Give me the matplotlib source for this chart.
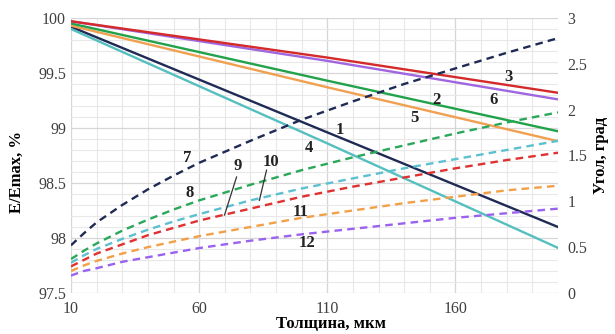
import numpy as np
import matplotlib
matplotlib.use('Agg')
import matplotlib.pyplot as plt
from matplotlib.ticker import MultipleLocator, FuncFormatter

plt.rcParams['font.family'] = ['Liberation Serif', 'DejaVu Serif']

# толщина, мкм
x_solid = [10, 110, 200]
# E/Emax, % (сплошные линии 1-6)
e1 = [99.92, 98.96, 98.10]
e2 = [99.95, 99.43, 98.97]
e3 = [99.97, 99.64, 99.32]
e4 = [99.90, 98.86, 97.91]
e5 = [99.93, 99.37, 98.88]
e6 = [99.97, 99.61, 99.26]

# угол, град (пунктир 7-12)
x_dash = [10, 15, 20, 30, 40, 50, 60, 80, 100, 120, 140, 160, 180, 200]
a7 = [0.52, 0.65, 0.77, 0.96, 1.13, 1.28, 1.42, 1.66, 1.89, 2.09, 2.28, 2.45, 2.62, 2.78]
a8 = [0.37, 0.46, 0.54, 0.68, 0.80, 0.91, 1.01, 1.18, 1.34, 1.48, 1.61, 1.74, 1.86, 1.97]
a9 = [0.29, 0.36, 0.43, 0.53, 0.63, 0.71, 0.79, 0.92, 1.05, 1.16, 1.26, 1.36, 1.45, 1.53]
a10 = [0.33, 0.41, 0.48, 0.59, 0.69, 0.78, 0.86, 1.01, 1.14, 1.25, 1.36, 1.46, 1.56, 1.66]
a11 = [0.24, 0.30, 0.35, 0.43, 0.50, 0.56, 0.62, 0.72, 0.82, 0.90, 0.98, 1.05, 1.12, 1.17]
a12 = [0.19, 0.24, 0.27, 0.34, 0.39, 0.44, 0.49, 0.57, 0.64, 0.70, 0.76, 0.82, 0.87, 0.92]

navy = '#1f2a55'
red = '#d42a2a'
green = '#22a24a'
orange = '#f0a050'
purple = '#a066e0'
cyan = '#55bfc0'

fig = plt.figure(figsize=(6.15, 3.34), dpi=100)
ax = fig.add_axes([0.1154, 0.1228, 0.7919, 0.8234])
ax2 = ax.twinx()

# сетка
ax.set_xlim(10, 200)
ax.set_ylim(97.5, 100)
ax.xaxis.set_minor_locator(MultipleLocator(10))
ax.yaxis.set_major_locator(MultipleLocator(0.5))
ax.yaxis.set_minor_locator(MultipleLocator(0.1))
ax.yaxis.set_major_formatter(FuncFormatter(lambda v, p: '%g' % v))
ax.set_xticks([10, 60, 110, 160])
ax.grid(which='major', color='#d6d6d6', lw=0.9)
ax.grid(which='minor', color='#e8e8e8', lw=0.8)
ax.set_axisbelow(True)
ax.tick_params(which='both', length=0, labelsize=11.5, colors='#404040')
ax.tick_params(axis='x', pad=6)
for s in ax.spines.values():
    s.set_visible(False)
for s in ax2.spines.values():
    s.set_visible(False)

lw = 1.7
ax.plot(x_solid, e1, color=navy, lw=lw)
ax.plot(x_solid, e4, color=cyan, lw=lw)
ax.plot(x_solid, e5, color=orange, lw=lw)
ax.plot(x_solid, e2, color=green, lw=lw)
ax.plot(x_solid, e6, color=purple, lw=lw)
ax.plot(x_solid, e3, color=red, lw=lw)

ax2.set_ylim(0, 3)
ax2.set_yticks([0, 0.5, 1, 1.5, 2, 2.5, 3])
ax2.yaxis.set_major_formatter(FuncFormatter(lambda v, p: '%g' % v))
ax2.tick_params(length=0, labelsize=11.5, colors='#404040', pad=7)

dash = (0, (3.2, 2.2))
ax2.plot(x_dash, a7, color=navy, lw=lw, ls=dash)
ax2.plot(x_dash, a8, color='#2aa85a', lw=lw, ls=dash)
ax2.plot(x_dash, a10, color='#5cc0d0', lw=lw, ls=dash)
ax2.plot(x_dash, a9, color='#e03030', lw=lw, ls=dash)
ax2.plot(x_dash, a11, color='#f2a048', lw=lw, ls=dash)
ax2.plot(x_dash, a12, color='#9a62ee', lw=lw, ls=dash)

ax.set_xlabel('Толщина, мкм', fontsize=12, fontweight='bold')
ax.xaxis.set_label_coords(0.534, -0.085)
ax.set_ylabel('E/Emax, %', fontsize=12, fontweight='bold')
ax.yaxis.set_label_coords(-0.095, 0.44)
ax2.set_ylabel('Угол, град', fontsize=12, fontweight='bold', rotation=90)
ax2.yaxis.set_label_coords(1.072, 0.5)

# подписи кривых
lab = dict(fontsize=12, fontweight='bold', color='#222222', ha='center', va='center')
ax.text(114.7, 98.98, '1', **lab)
ax.text(152.4, 99.25, '2', **lab)
ax.text(180.8, 99.46, '3', **lab)
ax.text(103, 98.82, '4', **lab)
ax.text(143.9, 99.09, '5', **lab)
ax.text(175, 99.25, '6', **lab)
ax.text(55.5, 98.73, '7', **lab)
ax.text(56.3, 98.41, '8', **lab)
ax.text(75, 98.65, '9', **lab)
ax.text(88.2, 98.69, '10', **lab)
ax.text(99.5, 98.24, '11', **lab)
ax.text(102, 97.95, '12', **lab)
# выноски
ax2.plot([74.6, 69.9], [1.265, 0.85], color='#333333', lw=0.9)
ax2.plot([86.3, 83.5], [1.34, 1.01], color='#333333', lw=0.9)

fig.savefig('out.png', dpi=100)
